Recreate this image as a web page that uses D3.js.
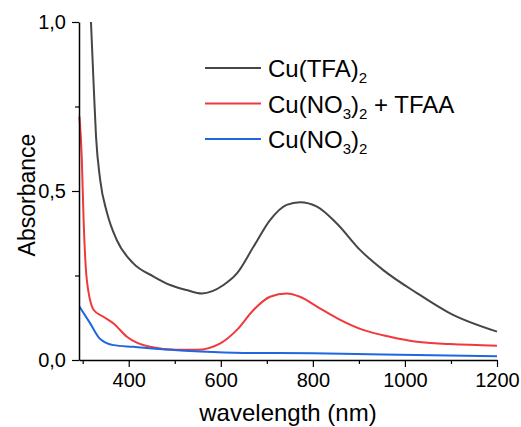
<!DOCTYPE html>
<html>
<head>
<meta charset="utf-8">
<script src="https://cdn.jsdelivr.net/npm/d3@7"></script>
<style>
  body { margin: 0; background: #fff; }
  text { font-family: "Liberation Sans", Arial, sans-serif; fill: #000; }
</style>
</head>
<body>
<script>
// wavelength (nm) / absorbance
const tfaWl = [318, 324, 329, 338, 353, 374, 410, 454, 490, 526, 559, 606, 635, 671, 707, 743, 772, 809, 852, 903, 953, 1026, 1098, 1200];
const tfaAbs = [1.0, 0.809, 0.661, 0.533, 0.435, 0.355, 0.286, 0.247, 0.222, 0.207, 0.197, 0.222, 0.256, 0.335, 0.414, 0.459, 0.467, 0.454, 0.404, 0.325, 0.266, 0.198, 0.138, 0.084];

const mixWl = [293, 298, 302, 309, 324, 345, 367, 396, 446, 504, 548, 599, 635, 671, 707, 743, 772, 809, 852, 909, 967, 1026, 1098, 1200];
const mixAbs = [0.72, 0.6, 0.414, 0.237, 0.148, 0.128, 0.108, 0.069, 0.039, 0.03, 0.03, 0.049, 0.089, 0.148, 0.187, 0.197, 0.187, 0.158, 0.124, 0.089, 0.069, 0.054, 0.047, 0.042];

const nitWl = [293, 316, 338, 367, 410, 490, 556, 649, 800, 953, 1200];
const nitAbs = [0.158, 0.109, 0.062, 0.044, 0.039, 0.03, 0.025, 0.021, 0.02, 0.016, 0.011];

const xTicks = [400, 600, 800, 1000, 1200];
const xMinor = [300, 500, 700, 900, 1100];
const yTicks = [0, 0.5, 1.0];
const yMinor = [0.25, 0.75];

const series = [
  { name: 'Cu(TFA)', sub: '2', rest: '', wl: tfaWl, abs: tfaAbs, color: '#464646' },
  { name: 'Cu(NO', sub: '3', mid: ')', sub2: '2', rest: ' + TFAA', wl: mixWl, abs: mixAbs, color: '#f0393c' },
  { name: 'Cu(NO', sub: '3', mid: ')', sub2: '2', rest: '', wl: nitWl, abs: nitAbs, color: '#1f66e0' }
];

const width = 521, height = 427;
const margin = { left: 79, right: 24, top: 22, bottom: 67 };

const svg = d3.select('body').append('svg')
  .attr('width', width)
  .attr('height', height);

const x = d3.scaleLinear().domain([292, 1200]).range([margin.left, width - margin.right]);
const y = d3.scaleLinear().domain([0, 1]).range([height - margin.bottom, margin.top]);

const fmt = d => d3.format('.1f')(d).replace('.', ',');

// curves
const line = d3.line()
  .x(d => x(d[0]))
  .y(d => y(d[1]))
  .curve(d3.curveMonotoneX);

series.forEach(s => {
  svg.append('path')
    .datum(s.wl.map((w, i) => [w, s.abs[i]]))
    .attr('d', line)
    .attr('fill', 'none')
    .attr('stroke', s.color)
    .attr('stroke-width', 2);
});

// axes
svg.append('g')
  .attr('transform', `translate(0,${y(0)})`)
  .call(d3.axisBottom(x).tickValues(xTicks).tickFormat(d3.format('d')).tickSize(7).tickPadding(6).tickSizeOuter(0));
svg.append('g')
  .attr('transform', `translate(0,${y(0)})`)
  .call(d3.axisBottom(x).tickValues(xMinor).tickSize(4).tickFormat('').tickSizeOuter(0))
  .select('.domain').remove();

svg.append('g')
  .attr('transform', `translate(${margin.left},0)`)
  .call(d3.axisLeft(y).tickValues(yTicks).tickFormat(fmt).tickSize(7).tickPadding(6).tickSizeOuter(0));
svg.append('g')
  .attr('transform', `translate(${margin.left},0)`)
  .call(d3.axisLeft(y).tickValues(yMinor).tickSize(4).tickFormat('').tickSizeOuter(0))
  .select('.domain').remove();

svg.selectAll('.domain').attr('stroke', '#000').attr('stroke-width', 1.5);
svg.selectAll('.tick line').attr('stroke', '#000').attr('stroke-width', 1.2);
svg.selectAll('.tick text')
  .style('font-family', '"Liberation Sans", Arial, sans-serif')
  .style('font-size', '20px')
  .attr('fill', '#000');

// axis titles
svg.append('text')
  .attr('x', 288)
  .attr('y', 421)
  .attr('text-anchor', 'middle')
  .style('font-size', '24px')
  .text('wavelength (nm)');

svg.append('text')
  .attr('transform', 'translate(35,195) rotate(-90)')
  .attr('text-anchor', 'middle')
  .style('font-size', '23px')
  .text('Absorbance');

// legend
const legend = svg.selectAll('.legend')
  .data(series)
  .enter()
  .append('g')
  .attr('class', 'legend')
  .attr('transform', (d, i) => `translate(205,${68 + i * 35.5})`);

legend.append('line')
  .attr('x1', 0).attr('x2', 56)
  .attr('y1', 0).attr('y2', 0)
  .attr('stroke', d => d.color)
  .attr('stroke-width', 2);

legend.each(function(d) {
  const t = d3.select(this).append('text')
    .attr('x', 63)
    .attr('y', 9)
    .style('font-size', '24px');
  t.append('tspan').text(d.name);
  t.append('tspan').attr('dy', 6).style('font-size', '15px').text(d.sub);
  if (d.mid) {
    t.append('tspan').attr('dy', -6).text(d.mid);
    t.append('tspan').attr('dy', 6).style('font-size', '15px').text(d.sub2);
  }
  if (d.rest) t.append('tspan').attr('dy', -6).text(d.rest);
});
</script>
</body>
</html>
